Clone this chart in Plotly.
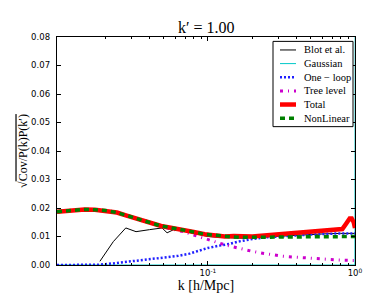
import plotly.graph_objects as go

# ---- data ----
k_tot = [0.0094, 0.011, 0.013, 0.0145, 0.017, 0.02, 0.024, 0.028, 0.034, 0.04, 0.048,
         0.057, 0.068, 0.08, 0.095, 0.11, 0.13, 0.15, 0.17, 0.2, 0.23, 0.27, 0.32, 0.38,
         0.45, 0.55, 0.65, 0.75, 0.82, 0.87, 0.92, 0.95, 0.98, 1.0]
total = [0.0187, 0.0191, 0.0194, 0.0195, 0.0194, 0.0191, 0.0184, 0.0173, 0.0160, 0.0148, 0.0137,
         0.0130, 0.0124, 0.0116, 0.0108, 0.0104, 0.0100, 0.0102, 0.0100, 0.0100, 0.0103, 0.0106, 0.0108, 0.0111,
         0.0114, 0.0118, 0.0121, 0.0124, 0.0126, 0.0145, 0.0163, 0.0163, 0.0150, 0.0130]
nonlinear = [0.0187, 0.0191, 0.0194, 0.0195, 0.0194, 0.0191, 0.0184, 0.0173, 0.0160, 0.0148, 0.0137,
             0.0130, 0.0124, 0.0116, 0.0108, 0.0104, 0.0100, 0.0098, 0.0097, 0.0097, 0.0098, 0.0098, 0.0098, 0.0098,
             0.0097, 0.0097, 0.0097, 0.0097, 0.0098, 0.0098, 0.0099, 0.0099, 0.0100, 0.0100]
tree = [0.0186, 0.0190, 0.0193, 0.0194, 0.0193, 0.0190, 0.0183, 0.0172, 0.0159, 0.0147, 0.0135,
        0.0126, 0.0117, 0.0105, 0.0092, 0.0081, 0.0071, 0.0063, 0.0056, 0.0048, 0.0042, 0.0036, 0.0031, 0.0028,
        0.0025, 0.0022, 0.0020, 0.0018, 0.0017, 0.0017, 0.0016, 0.0016, 0.0016, 0.0016]

k_blot = [0.0184, 0.0227, 0.0276, 0.0324, 0.04, 0.0487, 0.0527, 0.0584, 0.07, 0.085, 0.1,
          0.12, 0.14, 0.17, 0.22, 0.3, 0.4, 0.6, 0.8, 1.0]
blot = [0.0013, 0.0082, 0.0130, 0.0117, 0.0124, 0.0130, 0.0113, 0.0124, 0.0118, 0.0108, 0.0100,
        0.0097, 0.0095, 0.0094, 0.0097, 0.0101, 0.0105, 0.0109, 0.0111, 0.0111]

k_loop = [0.0094, 0.018, 0.022, 0.03, 0.04, 0.05, 0.063, 0.075, 0.087, 0.1, 0.12, 0.14, 0.16,
          0.2, 0.25, 0.3, 0.4, 0.55, 0.7, 0.85, 1.0]
oneloop = [0.0, 0.0001, 0.0005, 0.0013, 0.0020, 0.0026, 0.0032, 0.0040, 0.0050, 0.0060, 0.0068, 0.0074, 0.0082,
           0.0091, 0.0097, 0.0100, 0.0105, 0.0108, 0.0110, 0.0111, 0.0111]

k_gauss = [0.0094, 0.5, 0.999, 1.02]
gauss = [0.0, 0.0, 0.0, 0.5]

names = ["Blot et al.", "Gaussian", "One \u2212 loop", "Tree level", "Total", "NonLinear"]
styles = [
    dict(color="black", width=1),
    dict(color="#00c8c8", width=1),
    dict(color="#2020ff", width=2.5, dash="2px,2px"),
    dict(color="#cc00cc", width=3, dash="3px,5px,1px,5px"),
    dict(color="#ff0000", width=4.5),
    dict(color="#008000", width=3.5, dash="5px,4px"),
]
xs = [k_blot, k_gauss, k_loop, k_tot, k_tot, k_tot]
ys = [blot, gauss, oneloop, tree, total, nonlinear]

fig = go.Figure()
for x, y, n, s in zip(xs, ys, names, styles):
    fig.add_trace(go.Scatter(x=x, y=y, mode="lines", name=n, line=s, showlegend=False))

serif = "Liberation Serif"

# ---- hand-built legend (matplotlib-like compact spacing) ----
L, T, W, H = 49, 29, 298, 234  # plot area in px
def px(xp): return (xp - L) / W
def py(yp): return (T + H - yp) / H

shapes = [dict(type="rect", xref="paper", yref="paper", x0=px(265), x1=px(345), y0=py(121), y1=py(33.5),
               line=dict(color="black", width=1), fillcolor="white", layer="above")]
annotations = []
for i, (n, s) in enumerate(zip(names, styles)):
    yy = 42.3 + 14 * i
    shapes.append(dict(type="line", xref="paper", yref="paper", x0=px(272), x1=px(288),
                       y0=py(yy), y1=py(yy), line=s, layer="above"))
    annotations.append(dict(text=n, xref="paper", yref="paper", x=px(294), y=py(yy),
                            xanchor="left", yanchor="middle", showarrow=False,
                            font=dict(family=serif, size=10.5, color="black")))

# title as annotation for exact placement
annotations.append(dict(text="k\u2032 = 1.00", xref="paper", yref="paper", x=0.5, y=py(19),
                        xanchor="center", yanchor="middle", showarrow=False,
                        font=dict(family=serif, size=16, color="black")))

ylabel = "\u221a<span style='text-decoration:overline'>Cov/P(k)P(k\u2032)</span>"

fig.update_layout(
    width=390, height=293,
    margin=dict(l=L, r=390 - L - W, t=T, b=293 - T - H),
    paper_bgcolor="white", plot_bgcolor="white",
    showlegend=False,
    shapes=shapes, annotations=annotations,
    font=dict(family="DejaVu Sans", size=8, color="black"),
)
fig.update_xaxes(type="log", range=[-2.027, 0.0],
                 tickvals=[0.1, 1.0], ticktext=["10<sup>-1</sup>", "10<sup>0</sup>"],
                 ticks="inside", ticklen=4, tickcolor="black", mirror="allticks",
                 showline=True, linecolor="black", linewidth=1, showgrid=False, zeroline=False,
                 minor=dict(tickvals=[0.02, 0.03, 0.04, 0.05, 0.06, 0.07, 0.08, 0.09,
                                      0.2, 0.3, 0.4, 0.5, 0.6, 0.7, 0.8, 0.9],
                            ticks="inside", ticklen=2, tickcolor="black", showgrid=False),
                 tickfont=dict(size=8.5),
                 title=dict(text="k [h/Mpc]", font=dict(family=serif, size=14), standoff=1))
fig.update_yaxes(range=[0, 0.08], dtick=0.01, tickformat=".2f", ticksuffix="\u2002",
                 ticks="inside", ticklen=4, tickcolor="black", mirror="allticks",
                 showline=True, linecolor="black", linewidth=1, showgrid=False, zeroline=False,
                 tickfont=dict(size=8.5),
                 title=dict(text=ylabel, font=dict(family=serif, size=12), standoff=0))

fig.write_html("out.html")
